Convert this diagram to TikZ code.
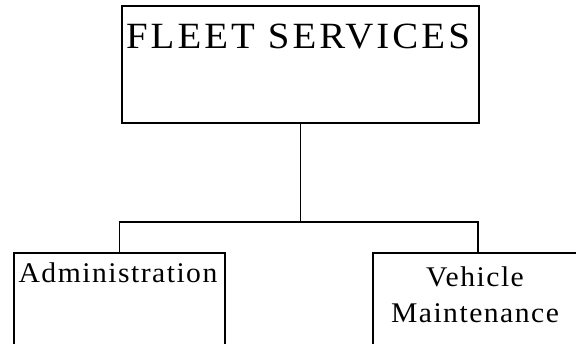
\documentclass[tikz,border=0pt]{standalone}
\usepackage{fontspec}
\setmainfont{Liberation Serif}
\newfontfamily\bigspaced[LetterSpace=8]{Liberation Serif}
\newfontfamily\smallspaced[LetterSpace=5]{Liberation Serif}
\begin{document}
\begin{tikzpicture}[x=1pt,y=-1pt,
  box/.style={draw, line width=1.8pt, rectangle, inner sep=0pt, anchor=north west},
  conn/.style={draw, line width=1.8pt},
  bigtxt/.style={anchor=base, inner sep=0pt, font=\fontsize{37}{40}\bigspaced, xscale=1.05},
  smalltxt/.style={anchor=base, inner sep=0pt, font=\fontsize{28.5}{35}\smallspaced, xscale=1.04}]
\useasboundingbox (0,0) rectangle (576,344);
\begin{scope}
\clip (0,0) rectangle (576,344);
\node[box, minimum width=357pt, minimum height=117pt] (top) at (121,5) {};
\node[box, minimum width=211pt, minimum height=92pt] (left) at (13,252) {};
\node[box, minimum width=210pt, minimum height=92pt] (right) at (372,252) {};
\node[bigtxt] (ttop) at (298,49) {FLEET SERVICES};
\node[smalltxt] (tleft) at (118,283) {Administration};
\node[smalltxt] (tright1) at (475,287) {Vehicle};
\node[smalltxt] (tright2) at (475,323) {Maintenance};
\coordinate (j) at (top.south |- 0,222);
\draw[conn] (top.south) -- (j);
\draw[conn] (left.north) |- (j) -| (right.north);
\end{scope}
\end{tikzpicture}
\end{document}
